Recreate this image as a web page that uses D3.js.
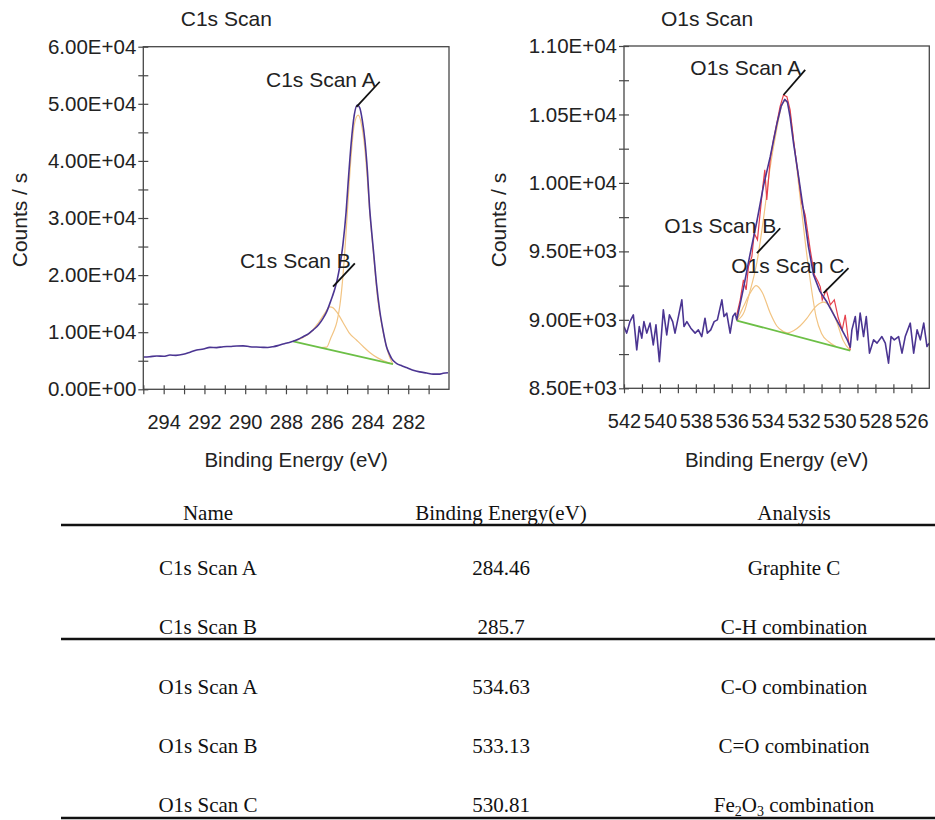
<!DOCTYPE html>
<html>
<head>
<meta charset="utf-8">
<script src="https://cdn.jsdelivr.net/npm/d3@7"></script>
<style>
  body { margin: 0; background: #fff; }
  svg text { font-family: "Liberation Sans", Arial, sans-serif; fill: #222; }
  .xps-table text { font-family: "Liberation Serif", "Times New Roman", serif; fill: #111; }
</style>
</head>
<body>
<svg id="chart" width="935" height="820"></svg>
<script>
// ---- C1s scan (binding energy eV, counts/s) ----
const c1sEnvelope = [[295.0,5650],[294.7,5700],[294.34,5830],[294.0,5780],[293.69,6000],[293.4,5950],[293.04,6130],[292.7,6500],[292.38,6880],[292.05,7050],[291.73,7350],[291.4,7300],[291.08,7460],[290.75,7500],[290.42,7580],[290.1,7600],[289.77,7460],[289.45,7400],[289.12,7350],[288.9,7330],[288.63,7460],[288.4,7650],[288.14,7930],[287.9,8150],[287.65,8400],[287.4,8750],[287.16,9210],[286.9,9700],[286.67,10380],[286.4,11300],[286.18,12430],[286.0,13600],[285.85,15000],[285.72,16300],[285.6,17600],[285.48,19300],[285.36,21470],[285.2,25500],[285.05,31000],[284.95,36100],[284.8,43100],[284.65,48000],[284.5,49800],[284.38,49300],[284.25,47000],[284.13,43700],[284.0,38000],[283.9,32000],[283.8,27800],[283.7,24000],[283.56,18560],[283.4,13800],[283.24,10400],[283.07,7500],[282.9,6000],[282.82,5400],[282.58,4550],[282.3,4100],[282.09,3800],[281.8,3400],[281.44,3050],[281.1,2850],[280.78,2650],[280.5,2650],[280.29,2800],[280.05,2900]];
const c1sBackground = [[287.65,8400],[282.75,4430]];
const c1sPeakA = [[286.3,7306],[286.0,7400],[285.8,9000],[285.65,10200],[285.5,11800],[285.35,14800],[285.2,20000],[285.05,27500],[284.95,33200],[284.8,41000],[284.65,46300],[284.46,48000],[284.3,46500],[284.15,42800],[284.0,36500],[283.9,31500],[283.7,23500],[283.5,15800],[283.3,11300],[283.1,7900],[282.9,5500],[282.75,4430]];
const c1sPeakB = [[287.65,8400],[287.3,8800],[287.0,9400],[286.7,10300],[286.4,11700],[286.1,13300],[285.85,14450],[285.7,14300],[285.5,13500],[285.2,11700],[284.9,9900],[284.54,8630],[284.2,7450],[283.89,6450],[283.5,5500],[283.2,5000],[282.75,4430]];
const c1sLabels = [
  {text: 'C1s Scan A', from: [283.40, 53860], to: [284.54, 49480]},
  {text: 'C1s Scan B', from: [284.62, 22060], to: [285.69, 17970]}
];

// ---- O1s scan ----
const o1sLeftData = [[542.00,8951],[541.85,8903],[541.67,8987],[541.48,9036],[541.29,8781],[541.15,8951],[541.01,8866],[540.89,8987],[540.73,8903],[540.55,8976],[540.37,8817],[540.22,8963],[540.03,8695],[539.81,9073],[539.62,8890],[539.47,9036],[539.29,8987],[539.16,8903],[538.97,9024],[538.78,9146],[538.66,8951],[538.50,8987],[538.28,8939],[538.04,8903],[537.86,8927],[537.67,8878],[537.49,9012],[537.36,8903],[537.17,8927],[536.98,8987],[536.80,9000],[536.55,9146],[536.43,9024],[536.28,9049],[536.09,8903],[535.94,9024],[535.81,9049]];
const o1sEnvelope = [[535.72,9000],[535.35,9230],[534.98,9480],[534.60,9720],[534.23,9980],[533.86,10190],[533.49,10430],[533.25,10560],[533.05,10610],[532.9,10590],[532.75,10480],[532.56,10290],[532.28,10046],[532.01,9803],[531.73,9535],[531.45,9330],[531.1,9210],[530.7,9130],[530.33,9040],[529.96,8950],[529.59,8860],[529.40,8800]];
const o1sRightData = [[529.31,8927],[529.12,9024],[529.00,8854],[528.85,9049],[528.66,8878],[528.51,9024],[528.33,8757],[528.10,8854],[527.91,8830],[527.64,8878],[527.45,8830],[527.27,8684],[527.13,8878],[526.95,8854],[526.71,8878],[526.52,8757],[526.34,8878],[526.06,8976],[525.87,8757],[525.68,8927],[525.50,8854],[525.31,8976],[525.13,8805],[525.0,8830]];
const o1sRaw = [[535.72,9036],[535.53,9146],[535.35,9292],[535.20,9219],[535.07,9389],[534.88,9462],[534.75,9633],[534.57,9584],[534.42,9779],[534.27,9973],[534.16,10095],[534.05,9876],[533.86,10168],[533.68,10314],[533.49,10436],[533.31,10557],[533.12,10642],[532.93,10630],[532.75,10533],[532.55,10300],[532.33,10090],[532.1,9850],[531.91,9766],[531.63,9511],[531.4,9330],[531.2,9280],[531.07,9241],[530.96,9146],[530.74,9219],[530.51,9110],[530.29,9146],[530.07,9015],[529.85,8927],[529.68,9036],[529.51,8854],[529.40,8781]];
const o1sBackground = [[535.72,8995],[529.40,8776]];
const o1sPeakA = [[535.7,8996],[535.3,9060],[535.0,9200],[534.6,9420],[534.2,9770],[533.9,10080],[533.5,10390],[533.2,10570],[533.0,10600],[532.8,10540],[532.5,10250],[532.2,9900],[531.9,9560],[531.6,9260],[531.3,9020],[531.0,8900],[530.6,8840],[530.2,8805]];
const o1sPeakB = [[535.72,8995],[535.35,9097],[534.98,9195],[534.64,9250],[534.3,9200],[533.86,9050],[533.49,8955],[533.12,8914],[532.8,8898]];
const o1sPeakC = [[533.0,8900],[532.56,8920],[532.2,8955],[531.82,9010],[531.5,9070],[531.26,9105],[530.89,9130],[530.52,9095],[530.14,8980],[529.8,8850],[529.4,8776]];
const o1sLabels = [
  {text: 'O1s Scan A', from: [531.91, 10825], to: [533.12, 10642]},
  {text: 'O1s Scan B', from: [533.30, 9669], to: [534.60, 9487]},
  {text: 'O1s Scan C', from: [529.50, 9377], to: [530.89, 9195]}
];

// ---- table ----
const tableHeader = ['Name', 'Binding Energy(eV)', 'Analysis'];
const tableNames = ['C1s Scan A', 'C1s Scan B', 'O1s Scan A', 'O1s Scan B', 'O1s Scan C'];
const tableEnergies = ['284.46', '285.7', '534.63', '533.13', '530.81'];
const tableAnalysis = ['Graphite C', 'C-H combination', 'C-O combination', 'C=O combination', 'Fe2O3 combination'];

// Colors
const purple = '#4b3592';
const red = '#e6404c';
const orange = '#f2c483';
const green = '#6cbf46';
const frameColor = '#474747';

const svg = d3.select('#chart');
const defs = svg.append('defs');

// 6.00E+04 style tick labels
const sci = v => {
  let [m, e] = v.toExponential(2).split('e');
  let n = +e;
  return `${m}E${n < 0 ? '-' : '+'}${String(Math.abs(n)).padStart(2, '0')}`;
};

/**
 * Draw one XPS panel
 */
const drawPanel = (arg) => {
  let left = arg.left, right = arg.right, top = arg.top, bottom = arg.bottom;

  let x = d3.scaleLinear().domain(arg.xDomain).range([left, right]);
  let y = d3.scaleLinear().domain(arg.yDomain).range([bottom, top]);
  let smooth = d3.line().x(d => x(d[0])).y(d => y(d[1])).curve(d3.curveMonotoneX);
  let straight = d3.line().x(d => x(d[0])).y(d => y(d[1]));

  defs.append('clipPath').attr('id', `${arg.id}-clip`)
    .append('rect')
    .attr('x', left).attr('y', top)
    .attr('width', right - left).attr('height', bottom - top);

  let g = svg.append('g').attr('class', arg.id);
  let plot = g.append('g').attr('clip-path', `url(#${arg.id}-clip)`);

  arg.components.forEach(c => {
    plot.append('path')
      .attr('d', smooth(c))
      .attr('fill', 'none')
      .attr('stroke', orange)
      .attr('stroke-width', 1.2);
  });

  plot.append('path')
    .attr('d', straight(arg.background))
    .attr('fill', 'none')
    .attr('stroke', green)
    .attr('stroke-width', 1.8);

  if (arg.raw) {
    plot.append('path')
      .attr('d', straight(arg.raw))
      .attr('fill', 'none')
      .attr('stroke', red)
      .attr('stroke-width', 1.2);
  }

  plot.append('path')
    .attr('d', (arg.noisy ? straight : smooth)(arg.envelope))
    .attr('fill', 'none')
    .attr('stroke', purple)
    .attr('stroke-width', 1.6)
    .attr('stroke-linejoin', 'round');

  // frame
  g.append('rect')
    .attr('x', left).attr('y', top)
    .attr('width', right - left).attr('height', bottom - top)
    .attr('fill', 'none')
    .attr('stroke', frameColor)
    .attr('stroke-width', 1.3);

  // y axis
  let yAxis = d3.axisLeft(y)
    .tickValues(arg.yTicks)
    .tickFormat(v => v % arg.yLabelStep === 0 ? sci(v) : '')
    .tickSize(5)
    .tickPadding(2);
  let ya = g.append('g').attr('transform', `translate(${left},0)`).call(yAxis);
  ya.select('.domain').remove();
  ya.selectAll('.tick line').attr('x1', 5).attr('stroke', frameColor).attr('stroke-width', 1.2);
  ya.selectAll('.tick text').style('font-size', '20.5px');

  // x axis
  let xAxis = d3.axisBottom(x)
    .tickValues(arg.xTicks)
    .tickFormat(v => v % 2 === 0 ? v : '')
    .tickSize(5)
    .tickPadding(21);
  let xa = g.append('g').attr('transform', `translate(0,${bottom})`).call(xAxis);
  xa.select('.domain').remove();
  xa.selectAll('.tick line').attr('y1', -4).attr('stroke', frameColor).attr('stroke-width', 1.2);
  xa.selectAll('.tick text').style('font-size', '20px');

  // titles
  g.append('text')
    .attr('x', left + 83).attr('y', 26)
    .attr('text-anchor', 'middle')
    .style('font-size', '21px')
    .text(arg.title);

  g.append('text')
    .attr('x', (left + right) / 2).attr('y', 467)
    .attr('text-anchor', 'middle')
    .style('font-size', '20.5px')
    .text('Binding Energy (eV)');

  g.append('text')
    .attr('transform', `translate(${arg.yTitleX},220) rotate(-90)`)
    .attr('text-anchor', 'middle')
    .style('font-size', '21px')
    .text('Counts / s');

  // peak labels with leader lines
  arg.labels.forEach(l => {
    g.append('line')
      .attr('x1', x(l.from[0])).attr('y1', y(l.from[1]))
      .attr('x2', x(l.to[0])).attr('y2', y(l.to[1]))
      .attr('stroke', '#111')
      .attr('stroke-width', 1.8);
    g.append('text')
      .attr('x', x(l.from[0]) - 4).attr('y', y(l.from[1]) + 5)
      .attr('text-anchor', 'end')
      .style('font-size', '21px')
      .text(l.text);
  });
};

drawPanel({
  id: 'c1s', title: 'C1s Scan',
  left: 143.3, right: 449, top: 46.7, bottom: 389.3,
  xDomain: [295, 280], yDomain: [0, 60000],
  xTicks: d3.range(281, 296), yTicks: d3.range(0, 60001, 5000), yLabelStep: 10000,
  yTitleX: 27,
  envelope: c1sEnvelope, background: c1sBackground,
  components: [c1sPeakB, c1sPeakA], labels: c1sLabels
});

drawPanel({
  id: 'o1s', title: 'O1s Scan',
  left: 624, right: 929.3, top: 46, bottom: 388.3,
  xDomain: [542, 525], yDomain: [8500, 11000],
  xTicks: d3.range(526, 543), yTicks: d3.range(8500, 11001, 250), yLabelStep: 500,
  yTitleX: 506,
  envelope: o1sLeftData.concat(o1sEnvelope, o1sRightData), noisy: true,
  raw: o1sRaw, background: o1sBackground,
  components: [o1sPeakB, o1sPeakA, o1sPeakC], labels: o1sLabels
});

// ---- table ----
const table = svg.append('g').attr('class', 'xps-table');
const colX = d3.scalePoint().domain([0, 1, 2]).range([208, 794]);
const rowY = d3.scaleLinear().domain([0, tableNames.length - 1]).range([575, 812]);

tableHeader.forEach((h, i) => {
  table.append('text')
    .attr('x', colX(i)).attr('y', 520)
    .attr('text-anchor', 'middle')
    .style('font-size', '21px')
    .text(h);
});

// chemical formulas: digits become subscripts
const addRichText = (sel, str) => {
  let parts = str.match(/\d+|\D+/g);
  let shifted = false;
  parts.forEach(p => {
    let isSub = /^\d+$/.test(p);
    let dy = 0;
    if (isSub && !shifted) { dy = 4; shifted = true; }
    if (!isSub && shifted) { dy = -4; shifted = false; }
    sel.append('tspan')
      .style('font-size', isSub ? '14px' : '21px')
      .attr('dy', dy)
      .text(p);
  });
};

tableNames.forEach((name, i) => {
  let ty = rowY(i);
  table.append('text').attr('x', colX(0)).attr('y', ty)
    .attr('text-anchor', 'middle').style('font-size', '21px').text(name);
  table.append('text').attr('x', colX(1)).attr('y', ty)
    .attr('text-anchor', 'middle').style('font-size', '21px').text(tableEnergies[i]);
  let t = table.append('text').attr('x', colX(2)).attr('y', ty)
    .attr('text-anchor', 'middle');
  addRichText(t, tableAnalysis[i]);
});

[525, 639, 818].forEach(ry => {
  table.append('line')
    .attr('x1', 61).attr('x2', 935)
    .attr('y1', ry).attr('y2', ry)
    .attr('stroke', '#111')
    .attr('stroke-width', 2.6);
});
</script>
</body>
</html>
